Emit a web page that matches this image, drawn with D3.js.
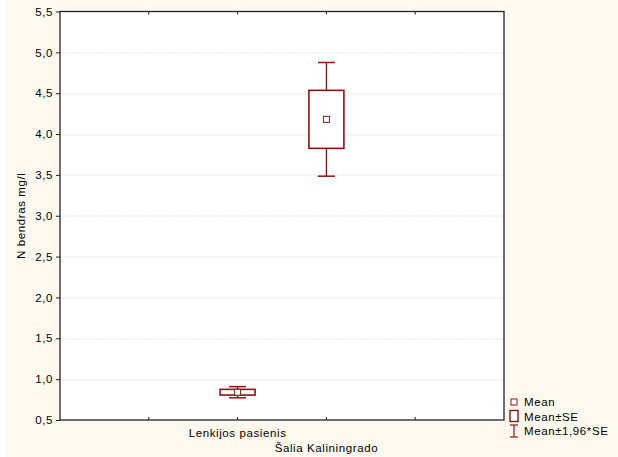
<!DOCTYPE html>
<html>
<head>
<meta charset="utf-8">
<script src="https://cdn.jsdelivr.net/npm/d3@7"></script>
<style>
  html, body { margin: 0; padding: 0; background: #ffffff; }
  svg { display: block; }
  text { font-family: "Liberation Sans", Arial, sans-serif; fill: #000; letter-spacing: 0.6px; }
</style>
</head>
<body>
<svg id="chart" width="618" height="457"></svg>
<script>
// Group means of total nitrogen with standard errors
const categories = ["Lenkijos pasienis", "Šalia Kaliningrado"];
const means = [0.84, 4.18];
const stdErrors = [0.035, 0.355];
const yTicks = [0.5, 1.0, 1.5, 2.0, 2.5, 3.0, 3.5, 4.0, 4.5, 5.0, 5.5];
const legendLabels = ["Mean", "Mean±SE", "Mean±1,96*SE"];

const W = 618, H = 457;
const margin = { left: 60, top: 11.5, right: 114, bottom: 37 };
const plotW = W - margin.left - margin.right;
const plotH = H - margin.top - margin.bottom;
const dark = "#8b1414";
const fs = "11.5px";

const svg = d3.select("#chart");

// Cream panel behind the whole figure
svg.append("rect").attr("x", 7).attr("y", 0).attr("width", W - 7).attr("height", H)
  .attr("fill", "#fdf9ee");

const g = svg.append("g").attr("transform", `translate(${margin.left},${margin.top})`);

// Five equal slots; groups sit on the 2nd and 3rd interior ticks
const xs = d3.scaleLinear().domain([0, 5]).range([0, plotW]);
const xPos = i => xs(i + 2);

const y = d3.scaleLinear().domain([0.5, 5.5]).range([plotH, 0]);
const fmt = d => d3.format(".1f")(d).replace(".", ",");

g.append("rect").attr("width", plotW).attr("height", plotH).attr("fill", "#ffffff");

// Dotted horizontal grid
g.append("g").selectAll("line").data(yTicks.slice(1, -1)).join("line")
  .attr("x1", 0).attr("x2", plotW)
  .attr("y1", d => Math.round(y(d)) + 0.5).attr("y2", d => Math.round(y(d)) + 0.5)
  .attr("stroke", "#e2e2e2").attr("stroke-width", 1).attr("stroke-dasharray", "2,1");

// Y axis
const yAxis = g.append("g")
  .call(d3.axisLeft(y).tickValues(yTicks).tickFormat(fmt).tickSize(4).tickPadding(3));
yAxis.select(".domain").remove();
yAxis.selectAll(".tick line").attr("stroke", "#222");
yAxis.selectAll(".tick text").style("font-size", fs).attr("fill", "#000");

// Category tick marks (pointing inward) at bottom and top
const innerTicks = [1, 2, 3, 4];
g.append("g").selectAll("line").data(innerTicks).join("line")
  .attr("x1", d => xs(d)).attr("x2", d => xs(d))
  .attr("y1", plotH).attr("y2", plotH - 3).attr("stroke", "#222");
g.append("g").selectAll("line").data(innerTicks).join("line")
  .attr("x1", d => xs(d)).attr("x2", d => xs(d))
  .attr("y1", 0).attr("y2", 3).attr("stroke", "#222");

// Category labels, staggered
g.append("g").selectAll("text").data(categories).join("text")
  .attr("x", (d, i) => xPos(i))
  .attr("y", (d, i) => plotH + 17 + i * 14.5)
  .attr("text-anchor", "middle")
  .style("font-size", fs)
  .text(d => d);

// Plot frame
g.append("rect").attr("width", plotW).attr("height", plotH)
  .attr("fill", "none").attr("stroke", "#222").attr("stroke-width", 1.3);

// Y axis title
svg.append("text")
  .attr("transform", `translate(25,${margin.top + plotH / 2}) rotate(-90)`)
  .attr("text-anchor", "middle")
  .style("font-size", fs)
  .text("N bendras mg/l");

// Boxes and whiskers
const boxW = 35, capW = 17, markS = 6;
const groups = categories.map((c, i) => ({
  cx: xPos(i), mean: means[i], se: stdErrors[i]
}));

const marks = g.append("g");
groups.forEach(d => {
  const wLo = d.mean - 1.96 * d.se, wHi = d.mean + 1.96 * d.se;
  const bLo = d.mean - d.se, bHi = d.mean + d.se;
  // whisker stems
  marks.append("line").attr("x1", d.cx).attr("x2", d.cx)
    .attr("y1", y(wHi)).attr("y2", y(bHi)).attr("stroke", dark).attr("stroke-width", 1.3);
  marks.append("line").attr("x1", d.cx).attr("x2", d.cx)
    .attr("y1", y(bLo)).attr("y2", y(wLo)).attr("stroke", dark).attr("stroke-width", 1.3);
  // caps
  [wHi, wLo].forEach(v => marks.append("line")
    .attr("x1", d.cx - capW / 2).attr("x2", d.cx + capW / 2)
    .attr("y1", y(v)).attr("y2", y(v)).attr("stroke", dark).attr("stroke-width", 1.5));
  // SE box
  marks.append("rect")
    .attr("x", d.cx - boxW / 2).attr("y", y(bHi))
    .attr("width", boxW).attr("height", y(bLo) - y(bHi))
    .attr("fill", "#ffffff").attr("stroke", dark).attr("stroke-width", 1.6);
  // mean marker
  marks.append("rect")
    .attr("x", d.cx - markS / 2).attr("y", y(d.mean) - markS / 2)
    .attr("width", markS).attr("height", markS)
    .attr("fill", "#ffffff").attr("stroke", dark).attr("stroke-width", 1);
});

// Legend
const lg = svg.append("g").attr("transform", "translate(510,0)");
lg.append("rect").attr("x", 1).attr("y", 399).attr("width", 6).attr("height", 6)
  .attr("fill", "#fff").attr("stroke", dark).attr("stroke-width", 1);
lg.append("rect").attr("x", 0).attr("y", 410.5).attr("width", 8).attr("height", 11)
  .attr("fill", "#fff").attr("stroke", dark).attr("stroke-width", 1.4);
lg.append("line").attr("x1", 4).attr("x2", 4).attr("y1", 425).attr("y2", 437)
  .attr("stroke", dark).attr("stroke-width", 1.2);
lg.append("line").attr("x1", 0).attr("x2", 8).attr("y1", 425).attr("y2", 425)
  .attr("stroke", dark).attr("stroke-width", 1.2);
lg.append("line").attr("x1", 0).attr("x2", 8).attr("y1", 437).attr("y2", 437)
  .attr("stroke", dark).attr("stroke-width", 1.2);
lg.selectAll("text.lbl").data(legendLabels).join("text").attr("class", "lbl")
  .attr("x", 14).attr("y", (d, i) => 406 + i * 14.5)
  .style("font-size", fs)
  .text(d => d);
</script>
</body>
</html>
